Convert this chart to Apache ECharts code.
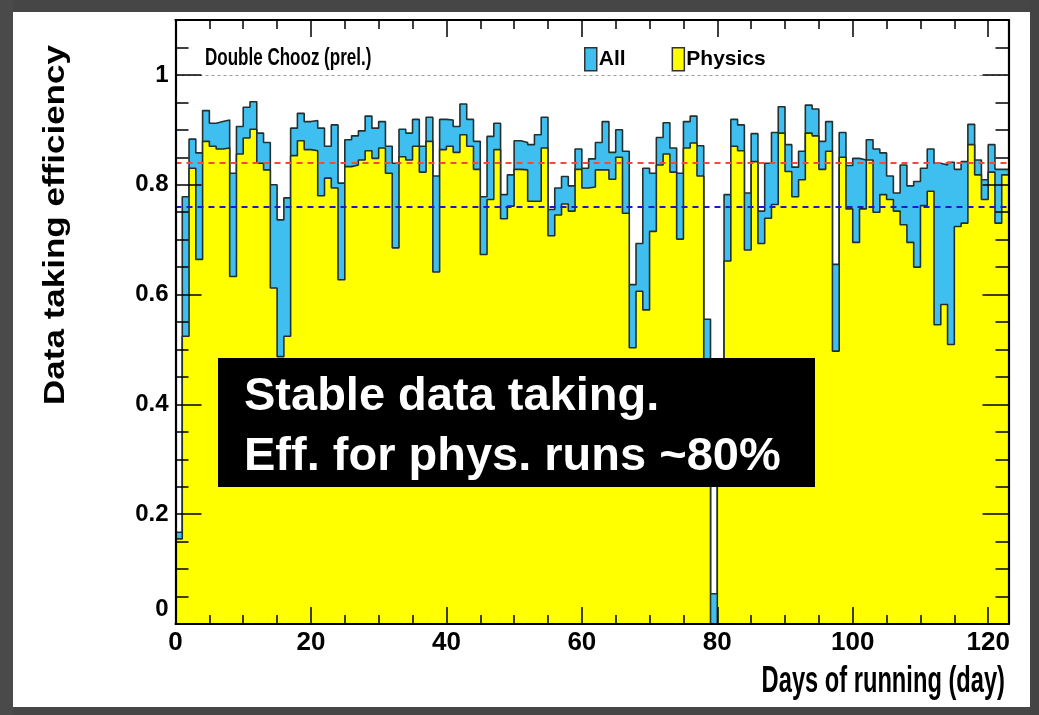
<!DOCTYPE html>
<html><head><meta charset="utf-8">
<script src="https://cdn.jsdelivr.net/npm/echarts@6/dist/echarts.min.js"></script>
<style>html,body{margin:0;padding:0;background:#fff}#c{width:1039px;height:715px}</style>
</head><body><div id="c"></div>
<script>
// Bin edges (days of running), one bin per day
const dayEdges = [0,1,2,3,4,5,6,7,8,9,10,11,12,13,14,15,16,17,18,19,20,21,22,23,24,25,26,27,28,29,30,31,32,33,34,35,36,37,38,39,40,41,42,43,44,45,46,47,48,49,50,51,52,53,54,55,56,57,58,59,60,61,62,63,64,65,66,67,68,69,70,71,72,73,74,75,76,77,78,79,80,81,82,83,84,85,86,87,88,89,90,91,92,93,94,95,96,97,98,99,100,101,102,103,104,105,106,107,108,109,110,111,112,113,114,115,116,117,118,119,120,121,122,123];

// Data taking efficiency per day, all runs
const allEff = [0.167,0.778,0.883,0.858,0.935,0.912,0.915,0.918,0.821,0.906,
  0.941,0.951,0.894,0.877,0.800,0.736,0.776,0.903,0.930,0.915,
  0.917,0.903,0.870,0.909,0.803,0.882,0.889,0.898,0.925,0.903,
  0.915,0.870,0.839,0.901,0.894,0.919,0.870,0.923,0.816,0.919,
  0.918,0.906,0.947,0.919,0.879,0.778,0.888,0.912,0.782,0.818,
  0.880,0.877,0.873,0.891,0.923,0.755,0.794,0.815,0.798,0.865,
  0.830,0.847,0.877,0.915,0.859,0.900,0.861,0.618,0.693,0.830,
  0.821,0.886,0.913,0.867,0.821,0.915,0.925,0.871,0.555,0.055,
  0.400,0.782,0.919,0.909,0.785,0.893,0.752,0.839,0.895,0.942,
  0.873,0.832,0.861,0.945,0.938,0.879,0.915,0.655,0.895,0.835,
  0.848,0.845,0.882,0.865,0.858,0.816,0.785,0.836,0.798,0.806,
  0.830,0.865,0.839,0.836,0.841,0.828,0.842,0.910,0.845,0.809,
  0.873,0.828,0.828];

// Data taking efficiency per day, physics runs
const physEff = [0.155,0.524,0.830,0.664,0.879,0.870,0.865,0.867,0.633,0.856,
  0.885,0.901,0.839,0.827,0.612,0.487,0.524,0.853,0.880,0.864,
  0.862,0.780,0.812,0.794,0.627,0.833,0.836,0.845,0.862,0.848,
  0.867,0.821,0.685,0.851,0.845,0.870,0.823,0.879,0.641,0.864,
  0.870,0.859,0.891,0.870,0.828,0.673,0.773,0.864,0.738,0.761,
  0.828,0.827,0.770,0.770,0.867,0.707,0.745,0.765,0.752,0.828,
  0.794,0.796,0.827,0.827,0.810,0.850,0.748,0.503,0.606,0.572,
  0.715,0.836,0.856,0.823,0.701,0.867,0.876,0.816,0.450,0.000,
  0.400,0.661,0.870,0.862,0.681,0.842,0.693,0.739,0.764,0.894,
  0.824,0.778,0.809,0.894,0.889,0.828,0.861,0.497,0.850,0.756,
  0.695,0.756,0.845,0.750,0.782,0.773,0.752,0.727,0.695,0.650,
  0.762,0.788,0.545,0.582,0.509,0.724,0.730,0.873,0.818,0.773,
  0.823,0.730,0.818];

// Reference levels
const refOne = 1.0;
const refAll = 0.845;
const refPhys = 0.76;

const xTickLabels = ['0','20','40','60','80','100','120'];
const yTickLabels = ['0','0.2','0.4','0.6','0.8','1'];

const CYAN = '#3ebff0', YEL = '#ffff00', EDGE = '#22302f';
const SANS = '"Liberation Sans",Arial,Helvetica,sans-serif';

function stepData(vals){
  return dayEdges.map((d,i)=>[d, vals[Math.min(i, vals.length-1)]]);
}

const chart = echarts.init(document.getElementById('c'), null, {renderer:'canvas'});

const xBase = {type:'value', min:0, max:123, z:10, splitLine:{show:false}, minorTick:{show:false}};
const yBase = {type:'value', min:0, max:1.1, z:10, splitLine:{show:false}, minorTick:{show:false}};
const lineBlack = {show:true, onZero:false, lineStyle:{color:'#000', width:2.2}};
const noLine = {show:false, onZero:false};
function tick(len){ return {show:true, inside:true, length:len, lineStyle:{color:'#000', width:1.5}}; }

function xLabel(v){
  const s = String(Math.round(v));
  return xTickLabels.indexOf(s) >= 0 && Math.abs(v-Math.round(v))<1e-6 && v<=120 ? s : '';
}
function yLabel(v){
  if (v > 1.01) return '';
  const k = Math.round(v/0.2);
  if (Math.abs(v - k*0.2) > 1e-6) return '';
  const s = yTickLabels[k];
  return k === 0 ? '{z|' + s + '}' : s;
}

chart.setOption({
  backgroundColor:'#ffffff',
  animation:false,
  grid:{left:175.5, right:30.5, top:20, bottom:91, containLabel:false},
  legend:{
    left:584, top:47, padding:0, itemWidth:12, itemHeight:23, itemGap:46, icon:'rect',
    data:[{name:'All'},{name:'Physics'}],
    itemStyle:{borderColor:'#333', borderWidth:1.5},
    textStyle:{fontFamily:SANS, fontWeight:'bold', fontSize:21, color:'#000', padding:[0,0,0,-3]},
    selectedMode:false
  },
  xAxis:[
    Object.assign({}, xBase, {position:'bottom', interval:20, axisLine:lineBlack, axisTick:tick(17),
      axisLabel:{show:true, formatter:xLabel, margin:6, color:'#000', fontFamily:SANS, fontWeight:'bold', fontSize:26, showMaxLabel:false}}),
    Object.assign({}, xBase, {position:'bottom', interval:5, axisLine:noLine, axisTick:tick(9), axisLabel:{show:false}}),
    Object.assign({}, xBase, {position:'top', interval:20, axisLine:lineBlack, axisTick:tick(17), axisLabel:{show:false}}),
    Object.assign({}, xBase, {position:'top', interval:5, axisLine:noLine, axisTick:tick(9), axisLabel:{show:false}})
  ],
  yAxis:[
    Object.assign({}, yBase, {position:'left', interval:0.2, axisLine:lineBlack, axisTick:tick(26),
      axisLabel:{show:true, formatter:yLabel, margin:7, color:'#000', fontFamily:SANS, fontWeight:'bold', fontSize:24,
        showMaxLabel:false, rich:{z:{padding:[0,0,30,0], fontFamily:SANS, fontWeight:'bold', fontSize:24, color:'#000'}}}}),
    Object.assign({}, yBase, {position:'left', interval:0.05, axisLine:noLine, axisTick:tick(13), axisLabel:{show:false}}),
    Object.assign({}, yBase, {position:'right', interval:0.2, axisLine:lineBlack, axisTick:tick(26), axisLabel:{show:false}}),
    Object.assign({}, yBase, {position:'right', interval:0.05, axisLine:noLine, axisTick:tick(13), axisLabel:{show:false}})
  ],
  series:[
    {type:'line', name:'All', step:'end', data:stepData(allEff), xAxisIndex:0, yAxisIndex:0,
      symbol:'none', z:2, itemStyle:{color:CYAN},
      lineStyle:{color:EDGE, width:1.6}, areaStyle:{color:CYAN, opacity:1}},
    {type:'line', name:'Physics', step:'end', data:stepData(physEff), xAxisIndex:0, yAxisIndex:0,
      symbol:'none', z:3, itemStyle:{color:YEL},
      lineStyle:{color:EDGE, width:1.6}, areaStyle:{color:YEL, opacity:1},
      markLine:{symbol:'none', silent:true, label:{show:false}, animation:false,
        data:[
          {yAxis:refOne, lineStyle:{color:'#9a9a9a', type:[3,3], width:1}},
          {yAxis:refAll, lineStyle:{color:'#f24a3c', type:[6,5], width:2}},
          {yAxis:refPhys, lineStyle:{color:'#1a1acc', type:[6,5], width:2}}
        ]}}
  ],
  graphic:[
    {type:'rect', shape:{x:0,y:0,width:1039,height:12}, style:{fill:'#464646'}},
    {type:'rect', shape:{x:0,y:707,width:1039,height:8}, style:{fill:'#464646'}},
    {type:'rect', shape:{x:0,y:0,width:13,height:715}, style:{fill:'#4a4a4a'}},
    {type:'rect', shape:{x:1030,y:0,width:9,height:715}, style:{fill:'#444'}},
    {type:'text', x:205, y:59, scaleX:0.74,
      style:{text:'Double Chooz (prel.)', fontFamily:SANS, fontWeight:'bold', fontSize:23, fill:'#000', align:'left', verticalAlign:'middle'}},
    {type:'text', x:1005, y:682, scaleX:0.64,
      style:{text:'Days of running (day)', fontFamily:SANS, fontWeight:'bold', fontSize:37, fill:'#000', align:'right', verticalAlign:'middle'}},
    {type:'text', x:56, y:225, rotation:Math.PI/2, scaleY:0.85,
      style:{text:'Data taking efficiency', fontFamily:SANS, fontWeight:'bold', fontSize:35, fill:'#000', align:'center', verticalAlign:'middle'}},
    {type:'rect', z:100, shape:{x:218,y:358,width:597,height:129}, style:{fill:'#000'}},
    {type:'text', z:101, x:244, y:397,
      style:{text:'Stable data taking.', fontFamily:SANS, fontWeight:'bold', fontSize:47, fill:'#fff', align:'left', verticalAlign:'middle'}},
    {type:'text', z:101, x:244, y:457,
      style:{text:'Eff. for phys. runs ~80%', fontFamily:SANS, fontWeight:'bold', fontSize:47, fill:'#fff', align:'left', verticalAlign:'middle'}}
  ]
});
</script></body></html>
